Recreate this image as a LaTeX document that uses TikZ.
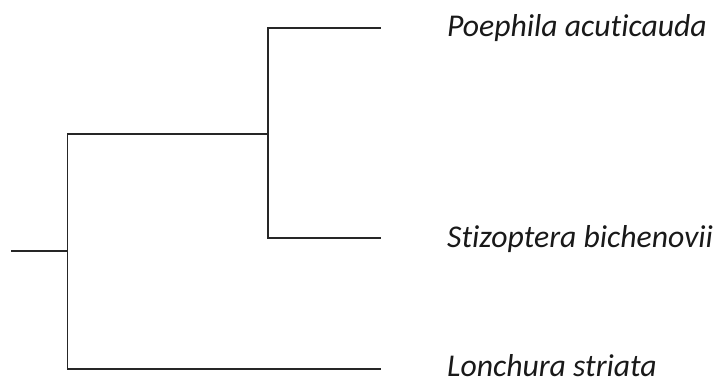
\documentclass[tikz,border=0pt]{standalone}
\usepackage{fontspec}
\setmainfont{Carlito}[Ligatures=NoCommon]
\begin{document}
\begin{tikzpicture}[x=1pt,y=-1pt,
  branch/.style={line width=1.6pt,black!85,line join=miter,line cap=rect},
  leaf/.style={anchor=base west,inner sep=0pt,font=\fontsize{31.7}{36}\selectfont\itshape,text=black!90}]
\useasboundingbox (0,0) rectangle (728,383);
% internal points and tips of the tree
\coordinate (root) at (12,251);
\coordinate (n1) at (67.5,251);
\coordinate (n2) at (268,134);
\coordinate (eA) at (380,28);
\coordinate (eB) at (380,238);
\coordinate (eC) at (380,369);
% taxon labels
\node[leaf] (lA) at (447,36) {Poephila acuticauda};
\node[leaf] (lB) at (447,247) {Stizoptera bichenovii};
\node[leaf] (lC) at (447,376.5) {Lonchura striata};
% branches
\draw[branch] (root) -- (n1);
\draw[branch] (n2) -| (n1) |- (eC);
\draw[branch] (eA) -| (n2) |- (eB);
\end{tikzpicture}
\end{document}
